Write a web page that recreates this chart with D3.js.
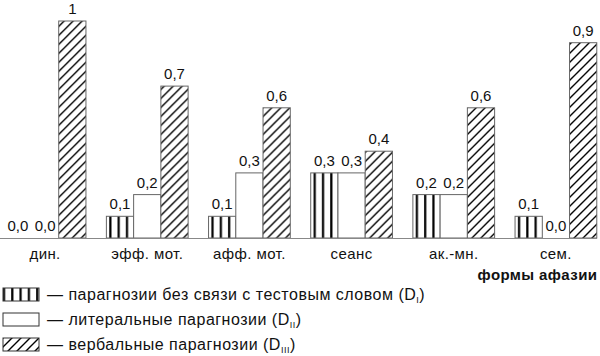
<!DOCTYPE html>
<html><head><meta charset="utf-8">
<script src="https://cdn.jsdelivr.net/npm/d3@7"></script>
<style>body{margin:0;background:#fff}text{font-family:"Liberation Sans",Arial,sans-serif;fill:#111}</style>
</head><body><svg id="c" width="600" height="356"></svg>
<script>
const categories = ["дин.", "эфф. мот.", "афф. мот.", "сеанс", "ак.-мн.", "сем."];
const seriesKeys = ["DI", "DII", "DIII"];
const valuesDI   = [0, 0.1, 0.1, 0.3, 0.2, 0.1];
const valuesDII  = [0, 0.2, 0.3, 0.3, 0.2, 0];
const valuesDIII = [1, 0.7, 0.6, 0.4, 0.6, 0.9];
const legendLabels = ["— парагнозии без связи с тестовым словом (D", "— литеральные парагнозии (D", "— вербальные парагнозии (D"];
const legendSubs = ["I", "II", "III"];
const axisTitle = "формы афазии";

const series = [valuesDI, valuesDII, valuesDIII];
const svg = d3.select("#c");
const defs = svg.append("defs");
const pv = defs.append("pattern").attr("id","pv").attr("patternUnits","userSpaceOnUse").attr("width",8.3).attr("height",10);
pv.append("rect").attr("width",8.3).attr("height",10).attr("fill","#fff");
pv.append("line").attr("x1",4).attr("x2",4).attr("y1",0).attr("y2",10).attr("stroke","#000").attr("stroke-width",2.2);
const pd = defs.append("pattern").attr("id","pd").attr("patternUnits","userSpaceOnUse").attr("width",9).attr("height",9);
pd.append("rect").attr("width",9).attr("height",9).attr("fill","#fff");
pd.append("path").attr("d","M-2,2 L2,-2 M0,9 L9,0 M7,11 L11,7").attr("stroke","#000").attr("stroke-width",1.4);
const fills = ["url(#pv)", "#fff", "url(#pd)"];

const x0 = d3.scaleBand().domain(categories).range([-6, 607]).paddingInner(0.2).paddingOuter(0.1);
const x1 = d3.scaleBand().domain(seriesKeys).range([0, x0.bandwidth()]);
const y = d3.scaleLinear().domain([0, 1]).range([238, 21]);
const fmt = v => d3.format(".1f")(v).replace(".", ",");
const fmtLabel = v => v === 1 ? "1" : fmt(v);

const g = svg.selectAll("g.grp").data(categories).join("g").attr("class","grp")
  .attr("transform", d => `translate(${x0(d)},0)`);
seriesKeys.forEach((k, si) => {
  g.filter((d, i) => series[si][i] > 0).append("rect")
    .attr("x", x1(k)).attr("width", x1.bandwidth())
    .attr("y", (d) => y(series[si][categories.indexOf(d)]))
    .attr("height", d => y(0) - y(series[si][categories.indexOf(d)]))
    .attr("fill", fills[si]).attr("stroke", "#666").attr("stroke-width", 1);
  g.append("text").attr("x", x1(k) + x1.bandwidth()/2)
    .attr("y", d => y(series[si][categories.indexOf(d)]) - 7)
    .attr("text-anchor","middle").attr("font-size",15)
    .text(d => fmtLabel(series[si][categories.indexOf(d)]));
});

svg.append("line").attr("x1",0).attr("x2",597).attr("y1",y(0)+0.5).attr("y2",y(0)+0.5).attr("stroke","#888").attr("stroke-width",1);
const xAxis = svg.append("g").attr("transform",`translate(0,${y(0)})`)
  .call(d3.axisBottom(x0).tickSize(0).tickPadding(10));
xAxis.select(".domain").remove();
xAxis.selectAll("text").attr("font-size",15).attr("letter-spacing",0.4).attr("font-family","Liberation Sans, Arial, sans-serif").attr("fill","#111").attr("dy","0.71em");

svg.append("text").attr("x",597.4).attr("y",280).attr("text-anchor","end").attr("font-size",15).attr("letter-spacing",0.4).attr("font-weight","bold").text(axisTitle);

const lg = svg.selectAll("g.leg").data(legendLabels).join("g").attr("class","leg")
  .attr("transform",(d,i)=>`translate(0,${300 + i*25})`);
lg.append("rect").attr("x",3).attr("y",-12).attr("width",36).attr("height",13)
  .attr("fill",(d,i)=>fills[i]).attr("stroke","#333").attr("stroke-width",1);
const lt = lg.append("text").attr("x",47).attr("y",0).attr("font-size",16).attr("letter-spacing",0.5);
lt.append("tspan").text(d=>d);
lt.append("tspan").attr("font-size",9).attr("dy",3).text((d,i)=>legendSubs[i]);
lt.append("tspan").attr("dy",-3).text(")");
</script></body></html>
